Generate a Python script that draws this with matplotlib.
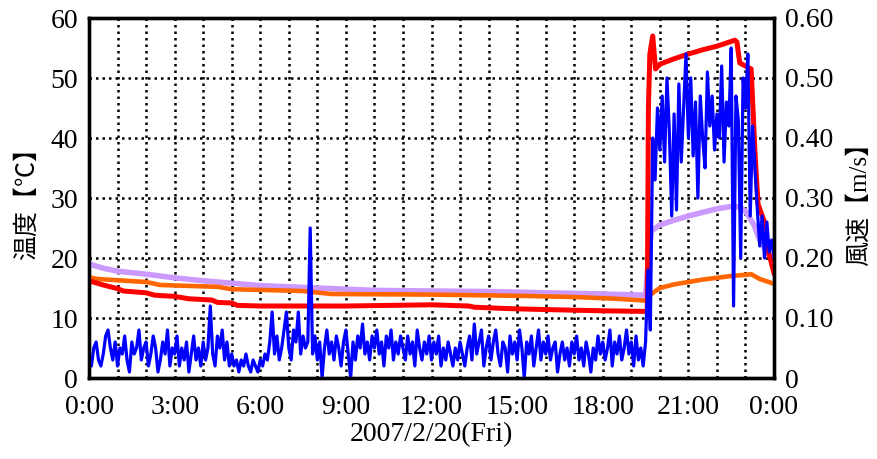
import matplotlib
matplotlib.use("Agg")
from matplotlib import pyplot as plt
import numpy as np

matplotlib.rcParams["font.family"] = ["Liberation Serif", "Noto Sans CJK JP"]

# 温度 (hours, deg C)
red_t = [0, 0.5, 1.0, 1.2, 2.0, 2.3, 3.0, 3.5, 4.3, 4.5, 5.0, 5.2, 6.0, 9.0, 12.0, 13.3, 13.5,
         14.5, 15.2, 17.0, 18.0, 19.5, 19.56, 19.6, 19.65, 19.75, 19.85, 20.0, 20.5, 21.0,
         21.5, 22.0, 22.63, 22.7, 22.8, 23.2, 23.33, 23.44, 23.68, 23.75, 24.0]
red_v = [16.2, 15.5, 14.9, 14.5, 14.2, 13.8, 13.6, 13.2, 13.0, 12.6, 12.5, 12.1, 12.0, 12.0, 12.2,
         12.0, 11.8, 11.6, 11.5, 11.3, 11.2, 11.1, 11.2, 45.0, 54.0, 57.0, 51.5, 52.3, 53.2, 54.0,
         54.7, 55.3, 56.3, 56.0, 52.5, 51.5, 38.0, 29.0, 25.8, 22.0, 17.5]

orange_t = [0, 0.3, 2.0, 2.5, 4.5, 5.0, 7.5, 8.5, 12.0, 15.0, 17.0, 18.5, 19.5, 19.6, 19.7,
            20.0, 20.5, 21.0, 21.5, 22.0, 22.5, 23.0, 23.2, 23.5, 24.0]
orange_v = [16.8, 16.5, 16.0, 15.5, 15.2, 14.8, 14.5, 14.0, 13.9, 13.7, 13.5, 13.2, 12.9, 13.5,
            14.0, 15.0, 15.6, 16.0, 16.4, 16.7, 17.0, 17.2, 17.3, 16.5, 15.7]

purple_t = [0, 0.5, 1, 2, 3, 4, 5, 6, 7, 8, 9, 10, 12, 14, 16, 18, 19.5, 19.6, 19.7, 20.0,
            20.5, 21, 21.5, 22, 22.5, 22.8, 23.0, 23.3, 23.5, 23.75, 24.0]
purple_v = [19.0, 18.3, 17.8, 17.3, 16.7, 16.2, 15.8, 15.4, 15.2, 15.0, 14.8, 14.6, 14.5, 14.4,
            14.2, 14.0, 13.8, 20.0, 24.5, 25.5, 26.3, 27.0, 27.6, 28.2, 28.6, 28.5, 27.8, 25.5,
            23.0, 21.0, 19.5]

# 風速 (m/s), every 5 minutes from 0:00 to 24:00
wind = [
    0.03, 0.02, 0.05, 0.06, 0.03, 0.02, 0.04, 0.07, 0.08, 0.05, 0.03, 0.06,
    0.02, 0.05, 0.04, 0.07, 0.03, 0.01, 0.06, 0.04, 0.05, 0.08, 0.03, 0.05,
    0.06, 0.02, 0.04, 0.07, 0.05, 0.01, 0.03, 0.06, 0.04, 0.08, 0.02, 0.05,
    0.04, 0.07, 0.02, 0.05, 0.03, 0.06, 0.01, 0.04, 0.07, 0.03, 0.05, 0.02,
    0.06, 0.03, 0.05, 0.12, 0.04, 0.02, 0.07, 0.05, 0.08, 0.03, 0.06, 0.02,
    0.04, 0.02, 0.03, 0.01, 0.03, 0.02, 0.04, 0.02, 0.01, 0.03, 0.02, 0.01,
    0.03, 0.02, 0.04, 0.03, 0.06, 0.11, 0.04, 0.07, 0.03, 0.05, 0.08, 0.11,
    0.05, 0.03, 0.08, 0.06, 0.11, 0.04, 0.07, 0.05, 0.06, 0.25, 0.04, 0.07,
    0.03, 0.06, 0.00, 0.05, 0.08, 0.04, 0.06, 0.03, 0.07, 0.05, 0.02, 0.06,
    0.08, 0.04, 0.00, 0.06, 0.03, 0.07, 0.05, 0.09, 0.04, 0.06, 0.03, 0.07,
    0.05, 0.08, 0.04, 0.06, 0.02, 0.07, 0.05, 0.08, 0.03, 0.06, 0.04, 0.07,
    0.05, 0.03, 0.07, 0.04, 0.06, 0.02, 0.08, 0.05, 0.03, 0.06, 0.04, 0.07,
    0.03, 0.06, 0.04, 0.07, 0.02, 0.05, 0.03, 0.06, 0.04, 0.02, 0.05, 0.03,
    0.06, 0.04, 0.02, 0.05, 0.07, 0.03, 0.09, 0.04, 0.06, 0.08, 0.02, 0.05,
    0.07, 0.03, 0.06, 0.08, 0.04, 0.02, 0.06, 0.05, 0.01, 0.07, 0.04, 0.06,
    0.03, 0.08, 0.05, 0.00, 0.06, 0.04, 0.07, 0.02, 0.05, 0.08, 0.03, 0.06,
    0.04, 0.07, 0.03, 0.05, 0.06, 0.01, 0.04, 0.06, 0.03, 0.05, 0.02, 0.06,
    0.04, 0.07, 0.03, 0.05, 0.02, 0.06, 0.04, 0.01, 0.05, 0.03, 0.07, 0.04,
    0.06, 0.03, 0.05, 0.08, 0.02, 0.06, 0.04, 0.07, 0.03, 0.05, 0.08, 0.04,
    0.06, 0.02, 0.07, 0.03, 0.05, 0.02, 0.06, 0.18, 0.08, 0.40, 0.33, 0.45,
    0.38, 0.47, 0.36, 0.50, 0.41, 0.27, 0.44, 0.28, 0.49, 0.36, 0.45, 0.54,
    0.40, 0.50, 0.37, 0.46, 0.30, 0.47, 0.40, 0.35, 0.51, 0.42, 0.47, 0.38,
    0.44, 0.40, 0.52, 0.36, 0.46, 0.42, 0.55, 0.12, 0.47, 0.43, 0.20, 0.50,
    0.45, 0.54, 0.27, 0.42, 0.35, 0.28, 0.22, 0.27, 0.20, 0.26, 0.21, 0.23,
    0.20,
]
wind_t = np.arange(len(wind)) * 5 / 60.0

xticks = [0, 3, 6, 9, 12, 15, 18, 21, 24]
xlabels = ["0:00", "3:00", "6:00", "9:00", "12:00", "15:00", "18:00", "21:00", "0:00"]
yticks = [0, 10, 20, 30, 40, 50, 60]
y2ticks = [0, 0.1, 0.2, 0.3, 0.4, 0.5, 0.6]
y2labels = ["0", "0.10", "0.20", "0.30", "0.40", "0.50", "0.60"]

fig = plt.figure(figsize=(8.77, 4.59), dpi=100)
ax = fig.add_axes([89 / 877, 1 - 378 / 459, 685 / 877, 360 / 459])

ax.plot(purple_t, purple_v, color="#cc99ff", lw=4.0, zorder=3)
ax.plot(orange_t, orange_v, color="#ff6600", lw=3.3, zorder=4)
ax.plot(red_t, red_v, color="#ff0000", lw=3.6, zorder=5)

ax.set_xlim(0, 24)
ax.set_ylim(0, 60)
ax.set_xticks(xticks)
ax.set_xticklabels(xlabels)
ax.set_xticks(range(25), minor=True)
ax.set_yticks(yticks)
ax.tick_params(axis="both", which="both", length=0, labelsize=20)
ax.tick_params(axis="x", pad=12)
ax.tick_params(axis="y", pad=8)
ax.grid(True, which="both", axis="x", color="black", linestyle=(0, (1, 1.6)), lw=1.8)
ax.grid(True, which="major", axis="y", color="black", linestyle=(0, (1, 1.6)), lw=1.8)
ax.set_axisbelow(True)
for s in ax.spines.values():
    s.set_linewidth(2.4)

ax.set_ylabel("温度【℃】", fontsize=18, labelpad=8)
ax.set_xlabel("2007/2/20(Fri)", fontsize=20, labelpad=2)

ax2 = ax.twinx()
ax2.plot(wind_t, wind, color="#0000ff", lw=2.3)
ax2.set_ylim(0, 0.6)
ax2.set_yticks(y2ticks)
ax2.set_yticklabels(y2labels)
ax2.tick_params(axis="y", length=0, labelsize=20, pad=8)
for s in ax2.spines.values():
    s.set_linewidth(2.4)
ax2.set_ylabel("風速【m/s】", fontsize=18, labelpad=10)

plt.savefig("out.png", dpi=100)
